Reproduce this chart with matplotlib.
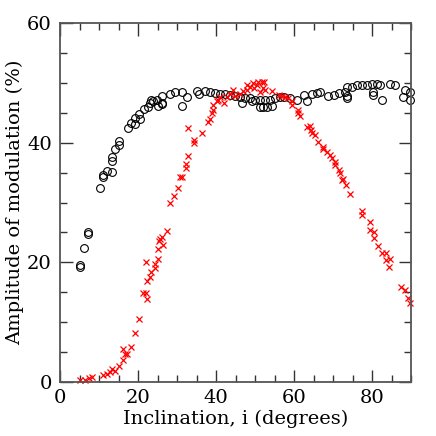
import matplotlib
matplotlib.use('Agg')
import matplotlib.pyplot as plt
from matplotlib.ticker import MultipleLocator

plt.rcParams['font.family'] = 'DejaVu Serif'
plt.rcParams['font.size'] = 14

# black circles: inclination (deg), amplitude (%)
circ_x = [5.0, 5.0, 6.2, 7.2, 7.2, 10.3, 11.1, 11.1, 12.0, 13.2, 13.2, 13.2, 14.1, 15.2, 15.2,
          17.3, 18.1, 19.2, 19.2, 20.1, 20.5, 21.4, 22.4, 23.1, 23.3, 23.9, 24.8, 25.2, 26.1,
          26.1, 26.2, 28.2, 29.5, 31.2, 31.2, 32.5, 35.0, 35.5, 37.2, 38.5, 39.7, 41.0, 42.3,
          43.6, 44.9, 46.1, 46.7, 47.4, 48.7, 49.2, 50.0, 51.3, 51.3, 52.1, 52.6, 53.0, 53.8,
          54.3, 55.1, 56.4, 57.3, 59.0, 60.7, 62.4, 63.2, 64.5, 65.8, 66.7, 68.8, 70.1, 71.4,
          73.1, 73.5, 73.5, 73.5, 74.8, 76.1, 77.4, 78.6, 79.9, 80.3, 80.3, 81.2, 82.1, 82.5,
          84.6, 85.9, 88.0, 88.5, 89.7, 89.8]
circ_y = [19.5, 19.2, 22.4, 25.0, 24.7, 32.5, 34.3, 34.6, 35.3, 35.1, 36.9, 37.6, 38.9, 39.6, 40.3,
          42.4, 43.3, 44.2, 43.2, 44.8, 43.9, 45.6, 46.0, 46.6, 47.2, 47.0, 47.2, 46.1, 47.8,
          46.6, 46.5, 48.1, 48.4, 48.5, 46.1, 47.6, 48.7, 48.1, 48.7, 48.5, 48.3, 48.2, 48.1,
          48.0, 47.8, 47.6, 46.7, 47.4, 47.4, 47.0, 47.2, 47.2, 46.0, 45.9, 47.1, 46.0, 47.2,
          46.1, 47.4, 47.7, 47.7, 47.4, 47.1, 48.0, 46.9, 48.1, 48.3, 48.4, 47.8, 48.0, 48.3,
          48.5, 49.4, 47.8, 47.4, 49.4, 49.6, 49.6, 49.6, 49.8, 48.5, 48.0, 49.9, 49.6, 47.1,
          49.8, 49.6, 47.7, 48.8, 47.1, 48.5]

# red crosses
cross_x = [5.1, 6.4, 7.3, 8.1, 11.1, 12.0, 12.8, 13.2, 14.1, 15.2, 16.2, 16.1, 16.7, 17.1, 18.1,
           19.2, 20.3, 21.2, 22.1, 22.2, 22.1, 22.2, 23.1, 23.2, 24.2, 24.4, 25.2, 25.2, 25.4,
           26.1, 26.3, 27.4, 25.6, 28.2, 29.2, 30.2, 30.6, 31.2, 32.3, 32.3, 32.9, 32.9, 34.2,
           34.2, 36.3, 38.0, 38.3, 38.9, 39.1, 39.3, 40.2, 40.6, 41.0, 42.1, 42.7, 43.6, 44.3,
           44.9, 46.2, 47.0, 47.9, 48.0, 48.7, 49.5, 50.4, 50.8, 51.7, 52.1, 52.6, 49.6, 51.3,
           52.3, 54.3, 56.0, 56.8, 57.7, 58.5, 59.4, 59.4, 61.1, 61.1, 61.4, 63.2, 64.1, 64.3,
           64.5, 65.4, 66.2, 67.3, 67.5, 68.4, 69.1, 69.7, 70.5, 70.5, 71.4, 71.8, 72.5, 73.4,
           72.2, 74.3, 77.4, 77.4, 79.5, 79.5, 80.4, 80.4, 81.5, 82.5, 83.6, 83.6, 84.5, 84.4,
           87.4, 88.5, 89.3, 89.8]
cross_y = [0.3, 0.3, 0.6, 0.8, 1.2, 1.3, 1.7, 2.1, 1.9, 2.7, 3.6, 5.5, 4.7, 4.7, 5.9,
           8.1, 10.6, 14.9, 14.9, 13.8, 20.0, 16.8, 17.6, 18.3, 19.0, 19.7, 20.5, 22.3, 23.6,
           24.2, 22.9, 25.3, 23.9, 29.9, 31.1, 32.4, 34.3, 34.3, 35.8, 36.5, 37.7, 42.4, 40.0,
           40.4, 41.6, 43.5, 43.9, 44.9, 45.4, 46.3, 46.9, 47.2, 47.7, 46.6, 47.7, 48.1, 48.8,
           47.8, 48.2, 48.7, 48.8, 49.6, 49.4, 50.0, 49.7, 50.2, 50.2, 49.1, 48.8, 49.1, 48.5,
           50.2, 48.7, 48.0, 47.8, 47.6, 47.4, 46.9, 46.3, 45.5, 44.9, 44.4, 42.7, 42.8, 42.1,
           41.6, 41.3, 40.2, 39.3, 38.9, 38.5, 37.9, 37.4, 36.8, 36.3, 35.4, 34.9, 34.0, 32.9,
           33.8, 31.5, 28.5, 27.9, 26.8, 25.4, 25.1, 24.0, 22.7, 21.5, 21.6, 20.4, 20.5, 19.2,
           15.8, 15.3, 14.0, 13.2]

fig = plt.figure(figsize=(4.36, 4.36), dpi=100)
ax = fig.add_axes([0.138, 0.124, 0.805, 0.823])

ax.plot(circ_x, circ_y, linestyle='none', marker='o', markersize=5.6,
        markerfacecolor='none', markeredgecolor='black', markeredgewidth=0.8, clip_on=False)
ax.plot(cross_x, cross_y, linestyle='none', marker='x', markersize=4.6,
        color='red', markeredgewidth=0.9, clip_on=False)

ax.set_xlim(0, 90)
ax.set_ylim(0, 60)
ax.xaxis.set_major_locator(MultipleLocator(20))
ax.xaxis.set_minor_locator(MultipleLocator(5))
ax.yaxis.set_major_locator(MultipleLocator(20))
ax.yaxis.set_minor_locator(MultipleLocator(5))
ax.tick_params(which='both', direction='in', top=True, right=True, colors='#333333',
               labelcolor='black', labelsize=14)
ax.tick_params(which='major', length=9, width=1.0)
ax.tick_params(which='minor', length=5, width=1.0)
ax.tick_params(axis='y', pad=6)
ax.tick_params(axis='x', pad=5)
for s in ax.spines.values():
    s.set_color('#555555')
    s.set_linewidth(1.3)

ax.set_xlabel('Inclination, i (degrees)', labelpad=2)
ax.set_ylabel('Amplitude of modulation (%)', labelpad=2)

fig.savefig('out.png', dpi=100)
